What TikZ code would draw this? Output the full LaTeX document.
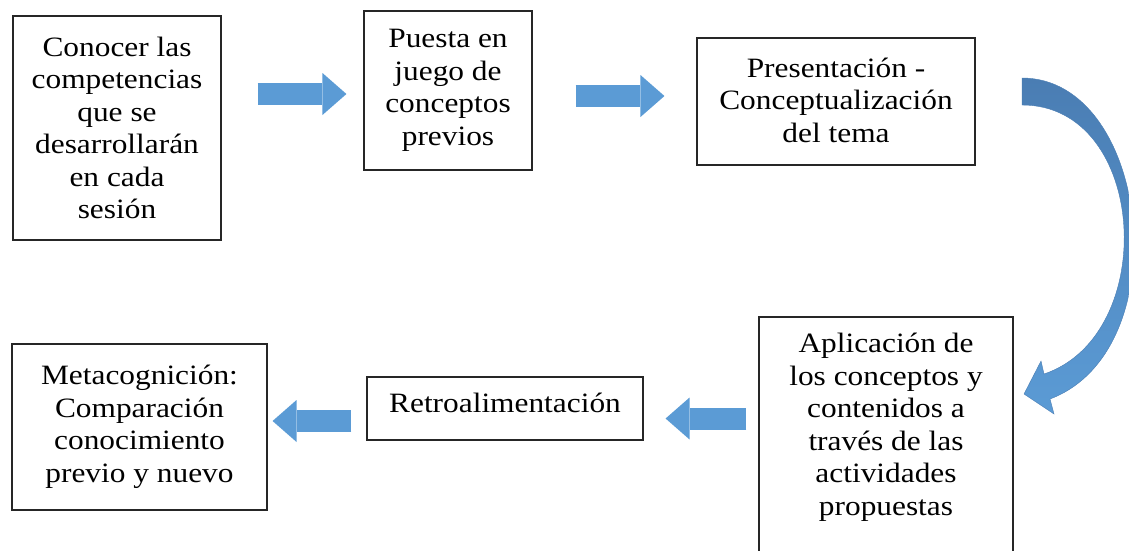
\documentclass[tikz,border=0pt]{standalone}
\usepackage{fontspec}
\setmainfont{Liberation Serif}[FakeStretch=1.12]
\usetikzlibrary{arrows.meta}

\definecolor{arrowblue}{HTML}{5B9BD5}
\definecolor{arrowdark}{HTML}{4A7DB3}
\definecolor{boxline}{HTML}{262626}

\begin{document}
\begin{tikzpicture}[x=1pt, y=-1pt,
  box/.style={draw=boxline, line width=1.1pt, align=center, inner sep=0pt,
    font=\fontsize{28}{32.5}\selectfont},
  blockarrow/.style={draw=arrowblue, line width=22pt,
    -{Triangle[length=24pt, width=42pt, line width=0pt, fill=arrowblue]}}]

\useasboundingbox (0,0) rectangle (1129,550);

\node[box, minimum width=208pt, minimum height=224pt] (comp) at (117,128)
  {Conocer las\\competencias\\que se\\desarrollarán\\en cada\\sesión};
\node[box, minimum width=168pt, minimum height=159pt] (previos) at (448,90.5)
  {Puesta en\\juego de\\conceptos\\previos};
\node[box, minimum width=278pt, minimum height=127pt, text depth=3pt] (tema) at (836,101.5)
  {Presentación -\\Conceptualización\\del tema};
\node[box, minimum width=254pt, minimum height=253pt, text depth=38pt] (aplic) at (886,443.5)
  {Aplicación de\\los conceptos y\\contenidos a\\través de las\\actividades\\propuestas};
\node[box, minimum width=276pt, minimum height=63pt, text depth=11pt] (retro) at (505,408.5)
  {Retroalimentación};
\node[box, minimum width=255pt, minimum height=166pt] (meta) at (139.5,427)
  {Metacognición:\\Comparación\\conocimiento\\previo y nuevo};

\draw[blockarrow] ([shift={(36,-34)}]comp.east) -- ([shift={(-17,3.5)}]previos.west);
\draw[blockarrow] ([shift={(43,5.5)}]previos.east) -- ([shift={(-32,-5.5)}]tema.west);
\draw[blockarrow] ([shift={(-12,-25)}]aplic.west) -- ([shift={(22,10)}]retro.east);
\draw[blockarrow] ([shift={(-15,12.5)}]retro.west) -- ([shift={(5,-6)}]meta.east);

% curved arrow from the theme box down to the application box
\shade[top color=arrowdark, bottom color=arrowblue, draw=arrowdark, line width=0.4pt]
  (1022,78) .. controls (1150,78) and (1180,350) .. (1050,399)
  -- (1054,414) -- (1024,394) -- (1041,361) -- (1044,374)
  .. controls (1160,335) and (1148,105) .. (1022,105) -- cycle;

\end{tikzpicture}
\end{document}
